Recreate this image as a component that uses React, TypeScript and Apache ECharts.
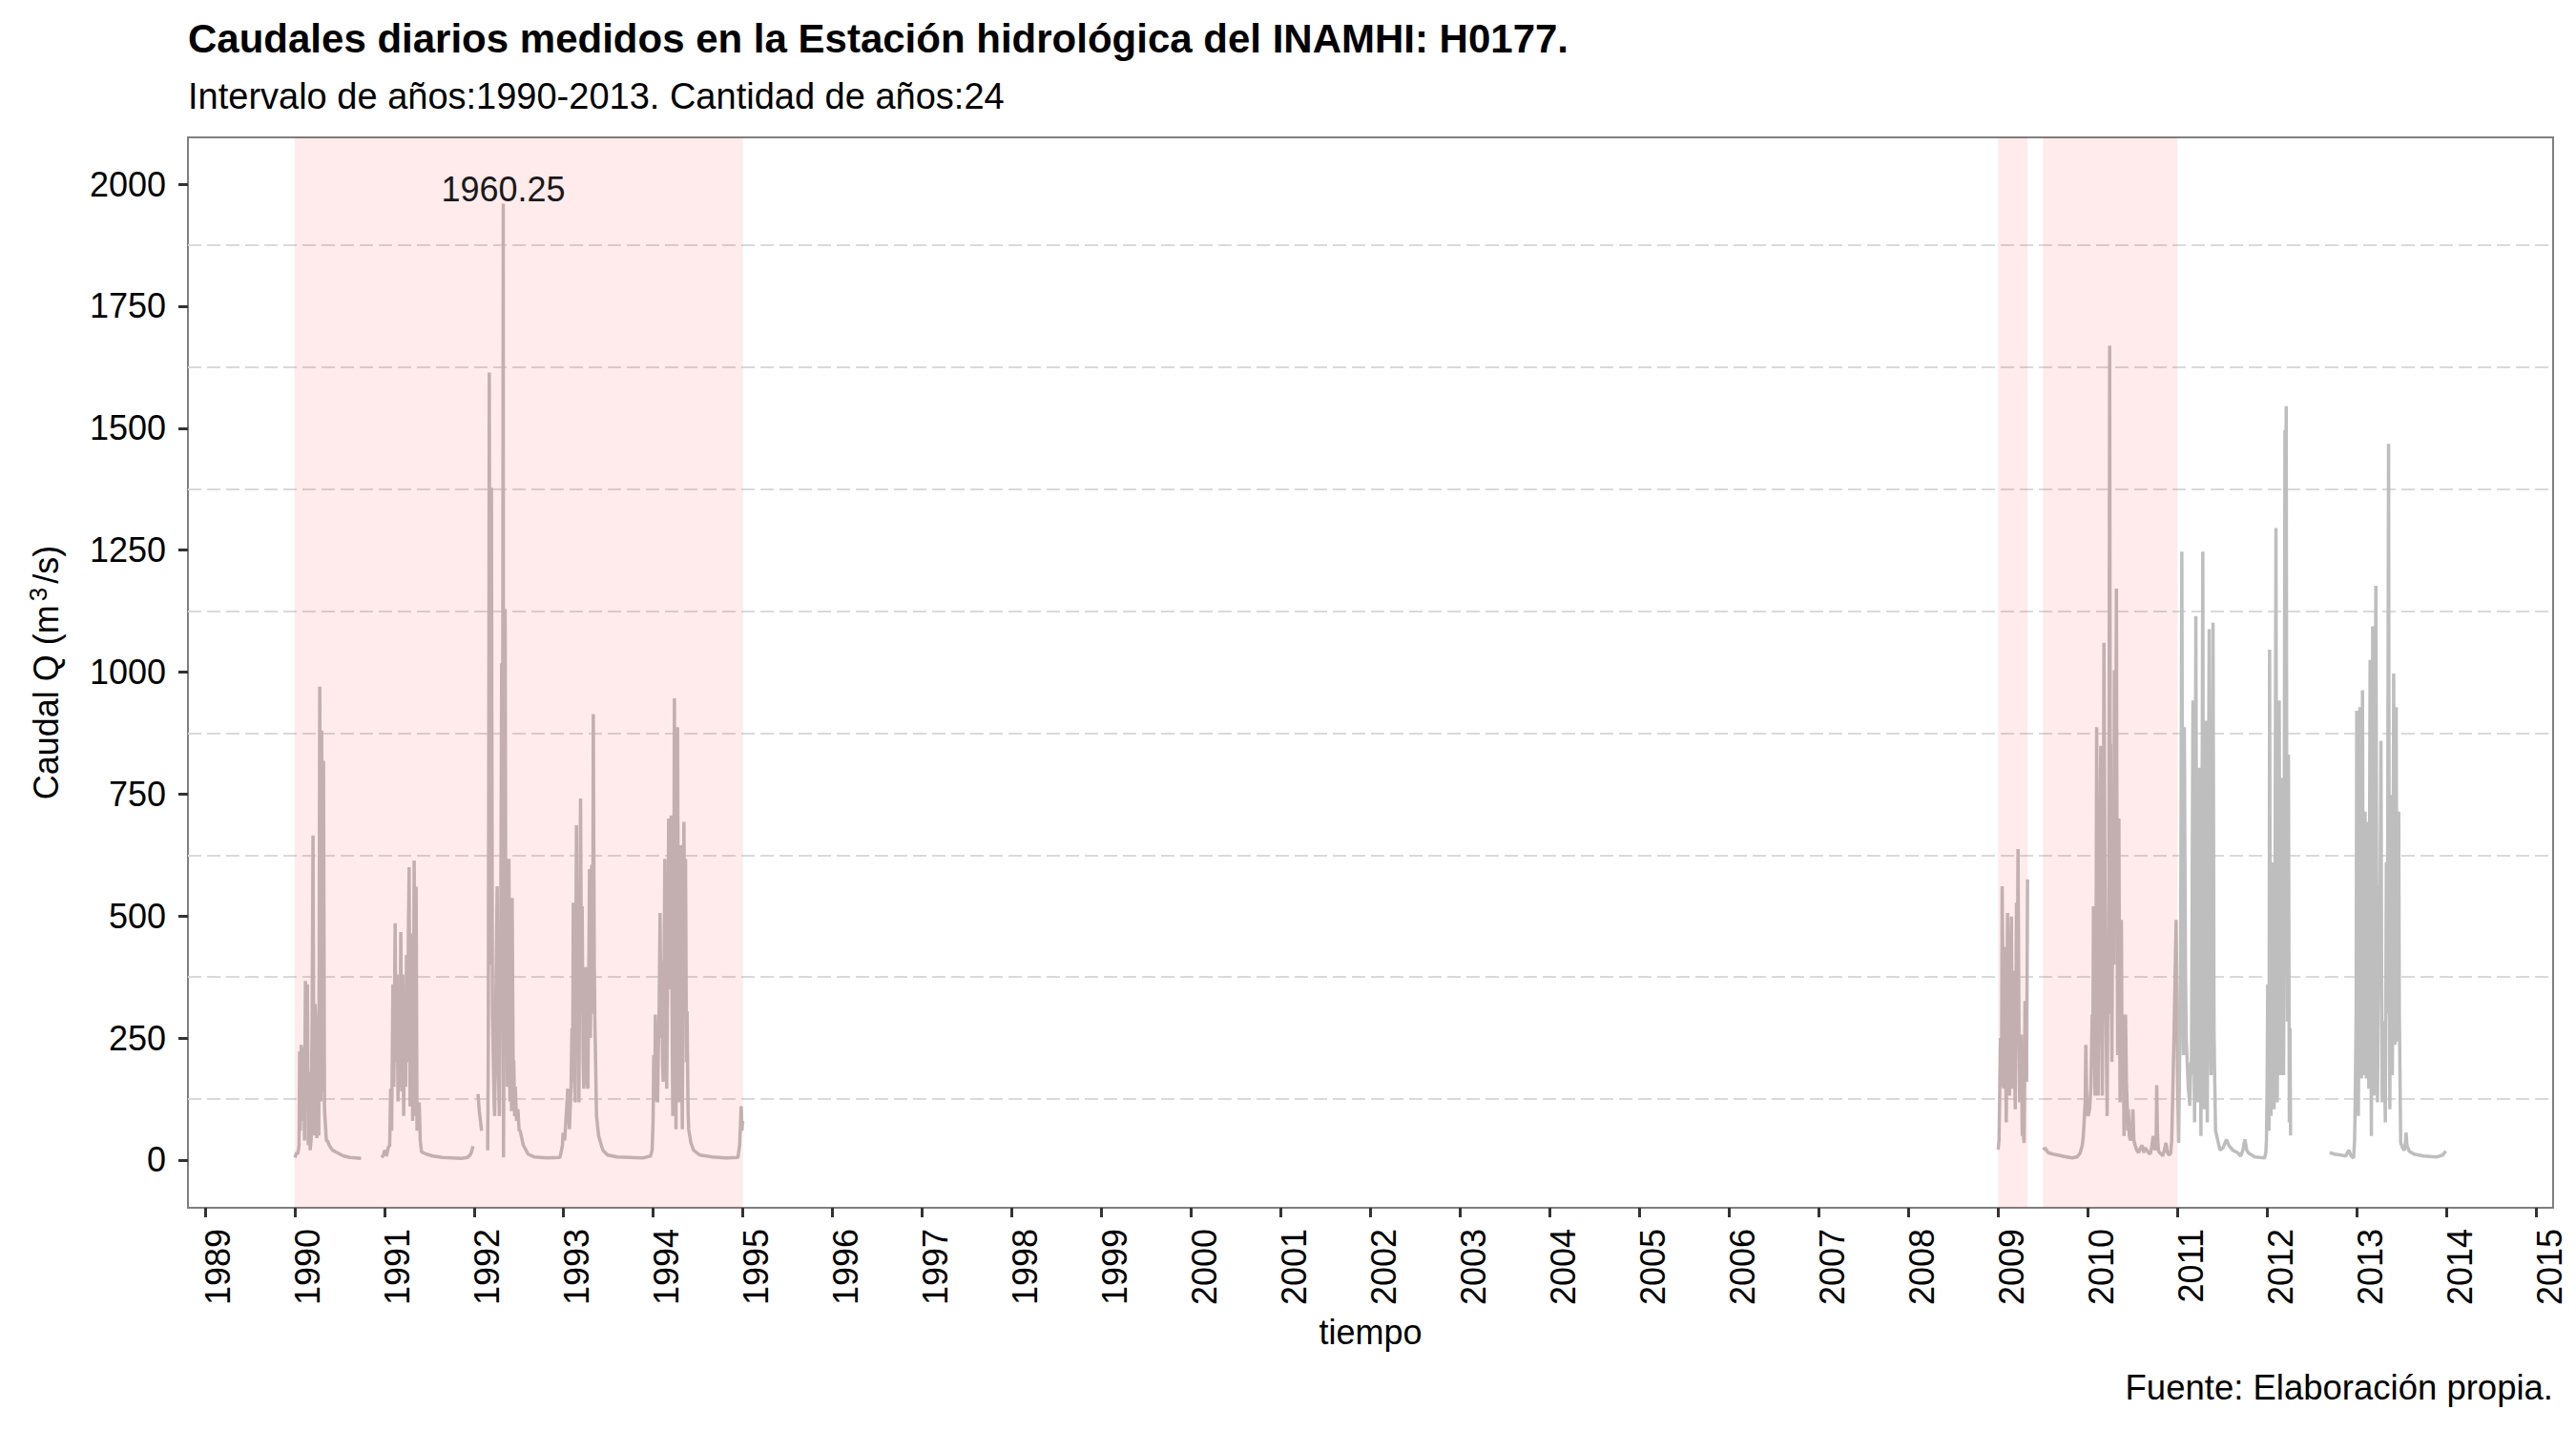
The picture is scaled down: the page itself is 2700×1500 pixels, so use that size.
import React, { useEffect, useRef } from 'react';
import * as echarts from 'echarts';

// daily discharge, as [decimal year, Q m3/s]
const seg1990: [number, number][] = [
  [1990.003, 5], [1990.021, 15], [1990.035, 12], [1990.049, 30], [1990.056, 222], [1990.063, 60],
  [1990.074, 236], [1990.085, 80], [1990.099, 230], [1990.110, 40], [1990.120, 367], [1990.131, 120],
  [1990.142, 360], [1990.152, 30], [1990.163, 180], [1990.173, 20], [1990.184, 40], [1990.195, 300],
  [1990.205, 665], [1990.216, 50], [1990.227, 320], [1990.237, 284], [1990.248, 45], [1990.259, 100],
  [1990.269, 50], [1990.280, 970], [1990.291, 120], [1990.301, 880], [1990.312, 140], [1990.322, 818],
  [1990.333, 104], [1990.344, 70], [1990.354, 40], [1990.369, 38], [1990.386, 30], [1990.422, 20],
  [1990.475, 15], [1990.546, 8], [1990.617, 5], [1990.741, 3],
];

const seg1991: [number, number][] = [
  [1990.972, 5], [1990.989, 10], [1991.007, 20], [1991.025, 8], [1991.043, 25], [1991.060, 30],
  [1991.071, 146], [1991.082, 60], [1991.096, 360], [1991.106, 150], [1991.121, 485], [1991.131, 200],
  [1991.142, 380], [1991.153, 120], [1991.163, 300], [1991.174, 150], [1991.184, 467], [1991.195, 140],
  [1991.206, 380], [1991.216, 90], [1991.227, 317], [1991.238, 150], [1991.248, 420], [1991.259, 200],
  [1991.270, 492], [1991.277, 600], [1991.287, 110], [1991.298, 400], [1991.305, 464], [1991.316, 80],
  [1991.326, 300], [1991.333, 614], [1991.344, 90], [1991.355, 560], [1991.365, 60], [1991.376, 100],
  [1991.390, 118], [1991.401, 40], [1991.415, 17], [1991.433, 15], [1991.468, 12], [1991.504, 10],
  [1991.539, 8], [1991.575, 7], [1991.645, 5], [1991.752, 4], [1991.858, 3], [1991.929, 5],
  [1991.965, 12], [1991.990, 28],
];

const seg1992a: [number, number][] = [
  [1992.045, 135], [1992.060, 100], [1992.085, 60],
];

const seg1992to1994: [number, number][] = [
  [1992.153, 20], [1992.160, 237], [1992.171, 1614], [1992.181, 400], [1992.195, 1378], [1992.206, 300],
  [1992.213, 237], [1992.224, 120], [1992.231, 90], [1992.242, 300], [1992.259, 561], [1992.270, 200],
  [1992.284, 90], [1992.298, 400], [1992.309, 1018], [1992.319, 600], [1992.327, 1960.25], [1992.330, 5],
  [1992.341, 600], [1992.348, 1129], [1992.355, 400], [1992.362, 617], [1992.373, 150], [1992.383, 500],
  [1992.390, 617], [1992.401, 120], [1992.408, 530], [1992.419, 100], [1992.426, 537], [1992.437, 200],
  [1992.444, 204], [1992.454, 90], [1992.461, 150], [1992.475, 80], [1992.490, 104], [1992.504, 60],
  [1992.515, 60], [1992.551, 30], [1992.604, 12], [1992.675, 6], [1992.817, 4], [1992.959, 5],
  [1992.987, 30], [1992.994, 56], [1993.012, 40], [1993.047, 146], [1993.065, 63], [1993.083, 150],
  [1993.093, 270], [1993.100, 160], [1993.108, 527], [1993.118, 200], [1993.129, 118], [1993.143, 686],
  [1993.154, 250], [1993.164, 450], [1993.171, 118], [1993.189, 741], [1993.200, 300], [1993.207, 520],
  [1993.218, 200], [1993.225, 146], [1993.235, 300], [1993.249, 395], [1993.260, 160], [1993.271, 146],
  [1993.289, 596], [1993.299, 250], [1993.313, 605], [1993.324, 300], [1993.331, 914], [1993.342, 400],
  [1993.349, 284], [1993.367, 90], [1993.391, 49], [1993.413, 35], [1993.438, 20], [1993.491, 10],
  [1993.597, 6], [1993.739, 5], [1993.881, 4], [1993.970, 8], [1993.987, 20], [1993.998, 80],
  [1994.005, 215], [1994.016, 120], [1994.023, 298], [1994.034, 140], [1994.048, 118], [1994.058, 240],
  [1994.065, 303], [1994.076, 506], [1994.087, 250], [1994.094, 408], [1994.104, 200], [1994.111, 160],
  [1994.129, 617], [1994.140, 300], [1994.150, 146], [1994.161, 400], [1994.172, 700], [1994.182, 350],
  [1994.193, 600], [1994.200, 706], [1994.211, 250], [1994.218, 90], [1994.229, 500], [1994.236, 946],
  [1994.246, 300], [1994.253, 63], [1994.264, 450], [1994.271, 887], [1994.282, 300], [1994.289, 118],
  [1994.299, 400], [1994.306, 645], [1994.317, 200], [1994.324, 63], [1994.335, 500], [1994.342, 693],
  [1994.353, 400], [1994.360, 617], [1994.370, 200], [1994.377, 305], [1994.388, 100], [1994.395, 63],
  [1994.420, 35], [1994.449, 20], [1994.520, 10], [1994.661, 6], [1994.803, 4], [1994.945, 5],
  [1994.963, 30], [1994.981, 110], [1994.990, 60], [1994.998, 80],
];

const seg2009a: [number, number][] = [
  [2009.000, 21], [2009.010, 42], [2009.027, 250], [2009.038, 150], [2009.045, 561], [2009.056, 300],
  [2009.063, 146], [2009.070, 300], [2009.077, 437], [2009.084, 200], [2009.091, 77], [2009.098, 250],
  [2009.105, 506], [2009.116, 300], [2009.127, 132], [2009.137, 350], [2009.148, 499], [2009.155, 250],
  [2009.162, 146], [2009.169, 300], [2009.176, 388], [2009.183, 200], [2009.191, 104], [2009.198, 300],
  [2009.205, 527], [2009.212, 300], [2009.222, 637], [2009.233, 250], [2009.240, 118], [2009.251, 200],
  [2009.258, 257], [2009.269, 49], [2009.279, 60], [2009.290, 35], [2009.300, 326], [2009.311, 200],
  [2009.318, 160], [2009.329, 575],
];

const seg2009to2012: [number, number][] = [
  [2009.499, 21], [2009.524, 24], [2009.559, 15], [2009.613, 12], [2009.666, 10], [2009.737, 7],
  [2009.826, 4], [2009.879, 6], [2009.914, 14], [2009.939, 30], [2009.950, 49], [2009.960, 80],
  [2009.971, 120], [2009.978, 236], [2009.989, 120], [2010.003, 90], [2010.021, 104], [2010.035, 150],
  [2010.049, 298], [2010.056, 200], [2010.063, 520], [2010.074, 250], [2010.081, 132], [2010.092, 400],
  [2010.099, 887], [2010.109, 300], [2010.116, 132], [2010.127, 500], [2010.134, 650], [2010.145, 849],
  [2010.155, 300], [2010.162, 132], [2010.173, 500], [2010.180, 1060], [2010.191, 600], [2010.198, 423],
  [2010.209, 200], [2010.216, 90], [2010.226, 437], [2010.233, 300], [2010.244, 1669], [2010.251, 700],
  [2010.255, 852], [2010.262, 400], [2010.269, 201], [2010.276, 500], [2010.283, 769], [2010.290, 400],
  [2010.297, 1004], [2010.308, 500], [2010.319, 1171], [2010.326, 600], [2010.333, 215], [2010.340, 400],
  [2010.347, 700], [2010.354, 300], [2010.361, 118], [2010.368, 300], [2010.375, 492], [2010.382, 200],
  [2010.393, 298], [2010.404, 49], [2010.414, 150], [2010.421, 298], [2010.432, 150], [2010.439, 118],
  [2010.446, 60], [2010.453, 104], [2010.464, 50], [2010.474, 40], [2010.492, 50], [2010.503, 104],
  [2010.514, 40], [2010.528, 30], [2010.546, 20], [2010.567, 15], [2010.588, 25], [2010.606, 30],
  [2010.624, 15], [2010.641, 25], [2010.659, 20], [2010.677, 15], [2010.695, 12], [2010.712, 25],
  [2010.730, 49], [2010.748, 20], [2010.762, 30], [2010.769, 153], [2010.776, 60], [2010.787, 20],
  [2010.801, 15], [2010.819, 12], [2010.836, 8], [2010.854, 20], [2010.872, 35], [2010.890, 15],
  [2010.907, 10], [2010.925, 14], [2010.936, 40], [2010.950, 153], [2010.961, 250], [2010.968, 319],
  [2010.978, 420], [2010.986, 492], [2010.996, 284], [2011.003, 150], [2011.014, 35], [2011.024, 200],
  [2011.031, 284], [2011.039, 600], [2011.049, 1247], [2011.056, 700], [2011.067, 215], [2011.077, 887],
  [2011.084, 600], [2011.091, 368], [2011.098, 250], [2011.106, 215], [2011.120, 150], [2011.138, 111],
  [2011.149, 200], [2011.156, 174], [2011.163, 500], [2011.173, 942], [2011.184, 300], [2011.191, 77],
  [2011.198, 500], [2011.205, 1115], [2011.216, 400], [2011.227, 118], [2011.237, 500], [2011.248, 804],
  [2011.255, 300], [2011.262, 49], [2011.273, 600], [2011.283, 1247], [2011.290, 400], [2011.297, 104],
  [2011.308, 500], [2011.315, 900], [2011.326, 300], [2011.333, 77], [2011.344, 600], [2011.354, 1088],
  [2011.365, 300], [2011.376, 174], [2011.390, 600], [2011.397, 1101], [2011.408, 270], [2011.415, 174],
  [2011.425, 60], [2011.475, 20], [2011.510, 25], [2011.546, 42], [2011.574, 30], [2011.617, 20],
  [2011.670, 15], [2011.706, 8], [2011.730, 20], [2011.752, 42], [2011.773, 20], [2011.794, 14],
  [2011.830, 10], [2011.865, 6], [2011.918, 5], [2011.972, 4], [2011.986, 15], [2011.993, 42],
  [2012.000, 150], [2012.007, 360], [2012.014, 200], [2012.021, 60], [2012.028, 1046], [2012.036, 300],
  [2012.043, 90], [2012.050, 400], [2012.060, 610], [2012.071, 200], [2012.078, 104], [2012.089, 600],
  [2012.099, 1295], [2012.106, 500], [2012.113, 118], [2012.124, 500], [2012.135, 942], [2012.142, 400],
  [2012.149, 174], [2012.160, 500], [2012.167, 783], [2012.177, 300], [2012.184, 174], [2012.191, 600],
  [2012.199, 1496], [2012.206, 800], [2012.213, 1545], [2012.220, 600], [2012.227, 284], [2012.238, 831],
  [2012.245, 300], [2012.248, 77], [2012.255, 270], [2012.262, 50],
];

const seg2012to2013: [number, number][] = [
  [2012.699, 15], [2012.752, 12], [2012.823, 10], [2012.876, 8], [2012.912, 20], [2012.937, 8],
  [2012.965, 4], [2012.976, 40], [2012.983, 125], [2012.993, 300], [2013.000, 921], [2013.011, 400],
  [2013.018, 90], [2013.029, 500], [2013.036, 928], [2013.046, 300], [2013.053, 167], [2013.064, 963],
  [2013.071, 500], [2013.078, 174], [2013.085, 400], [2013.092, 714], [2013.100, 300], [2013.107, 167],
  [2013.114, 500], [2013.121, 693], [2013.128, 300], [2013.135, 146], [2013.142, 600], [2013.149, 1025],
  [2013.156, 400], [2013.163, 49], [2013.170, 500], [2013.178, 1094], [2013.185, 600], [2013.192, 132],
  [2013.202, 700], [2013.213, 1177], [2013.224, 400], [2013.231, 118], [2013.241, 350], [2013.248, 561],
  [2013.259, 500], [2013.270, 859], [2013.277, 400], [2013.284, 118], [2013.295, 250], [2013.302, 284],
  [2013.312, 150], [2013.319, 77], [2013.330, 610], [2013.341, 300], [2013.348, 900], [2013.355, 1468],
  [2013.362, 500], [2013.369, 104], [2013.376, 400], [2013.383, 748], [2013.390, 300], [2013.397, 174],
  [2013.405, 500], [2013.412, 997], [2013.419, 400], [2013.426, 236], [2013.433, 500], [2013.440, 928],
  [2013.447, 400], [2013.454, 243], [2013.461, 500], [2013.468, 714], [2013.475, 300], [2013.483, 160],
  [2013.490, 35], [2013.511, 25], [2013.532, 20], [2013.543, 35], [2013.550, 56], [2013.560, 30],
  [2013.585, 18], [2013.639, 12], [2013.745, 8], [2013.887, 6], [2013.958, 10], [2013.994, 18],
];

const segments = [seg1990, seg1991, seg1992a, seg1992to1994, seg2009a, seg2009to2012, seg2012to2013];

// shaded periods [from, to] in decimal years
const shadedPeriods: [number, number][] = [
  [1990, 1995],
  [2009, 2009.33],
  [2009.5, 2011],
];

const yearTicks = [
  1989, 1990, 1991, 1992, 1993, 1994, 1995, 1996, 1997, 1998, 1999, 2000, 2001, 2002,
  2003, 2004, 2005, 2006, 2007, 2008, 2009, 2010, 2011, 2012, 2013, 2014, 2015,
];
const qTicks = [0, 250, 500, 750, 1000, 1250, 1500, 1750, 2000];
const minorGrid = [125, 375, 625, 875, 1125, 1375, 1625, 1875];

const peak: [number, number] = [1992.327, 1960.25];

const FONT = '"Liberation Sans", Arial, Helvetica, sans-serif';

export default function App() {
  const ref = useRef<HTMLDivElement>(null);

  useEffect(() => {
    if (!ref.current) return;
    const chart = echarts.init(ref.current, null, { renderer: 'svg' });

    const lineSeries = segments.map((seg, i) => {
      const s: any = {
        type: 'line',
        data: seg,
        showSymbol: false,
        symbol: 'none',
        z: 2,
        lineStyle: { color: '#bebebe', width: 3.5 },
        emphasis: { disabled: true },
      };
      if (i === 0) {
        s.markLine = {
          z: 1,
          silent: true,
          symbol: ['none', 'none'],
          label: { show: false },
          lineStyle: { color: '#dadada', type: [14, 6], width: 2 },
          data: minorGrid.map((v) => ({ yAxis: v })),
        };
        s.markArea = {
          z: 3,
          silent: true,
          itemStyle: { color: 'rgba(255,0,0,0.08)' },
          data: shadedPeriods.map(([a, b]) => [{ xAxis: a }, { xAxis: b }]),
        };
      }
      if (seg === seg1992to1994) {
        s.markPoint = {
          z: 5,
          silent: true,
          symbol: 'circle',
          symbolSize: 1,
          itemStyle: { color: 'rgba(0,0,0,0)' },
          label: {
            show: true,
            position: 'top',
            distance: -4,
            formatter: peak[1].toFixed(2),
            color: '#1a1a1a',
            fontSize: 36,
            fontFamily: FONT,
          },
          data: [{ coord: peak }],
        };
      }
      return s;
    });

    chart.setOption({
      animation: false,
      textStyle: { fontFamily: FONT },
      title: [
        {
          text: 'Caudales diarios medidos en la Estación hidrológica del INAMHI: H0177.',
          left: 197,
          top: 19,
          padding: 0,
          textStyle: { fontSize: 42, fontWeight: 'bold', color: '#000', fontFamily: FONT },
        },
        {
          text: 'Intervalo de años:1990-2013. Cantidad de años:24',
          left: 197,
          top: 82,
          padding: 0,
          textStyle: { fontSize: 38, fontWeight: 'normal', color: '#000', fontFamily: FONT },
        },
      ],
      grid: {
        left: 197,
        top: 144,
        right: 24,
        bottom: 234,
        show: true,
        borderColor: '#7f7f7f',
        borderWidth: 2,
        backgroundColor: '#fff',
        containLabel: false,
        outerBoundsMode: 'none',
      },
      xAxis: {
        type: 'value',
        min: 1988.81,
        max: 2015.19,
        name: 'tiempo',
        nameLocation: 'middle',
        nameGap: 112,
        nameMoveOverlap: false,
        nameTextStyle: { fontSize: 36, color: '#000', fontFamily: FONT },
        axisLine: { show: true, onZero: false, lineStyle: { color: '#7f7f7f', width: 2 } },
        axisTick: { show: true, length: 10, lineStyle: { color: '#333', width: 3 }, customValues: yearTicks },
        axisLabel: {
          rotate: 90,
          margin: 22,
          fontSize: 36,
          lineHeight: 28,
          verticalAlign: 'top',
          color: '#000',
          customValues: yearTicks,
          formatter: (v: number) => String(Math.round(v)),
        },
        splitLine: { show: false },
      },
      yAxis: {
        type: 'value',
        min: -98,
        max: 2096,
        name: 'Caudal Q (m{s|3}/s)',
        nameLocation: 'middle',
        nameRotate: 90,
        nameGap: 128,
        nameMoveOverlap: false,
        nameTextStyle: {
          fontSize: 36,
          color: '#000',
          fontFamily: FONT,
          rich: { s: { fontSize: 26, color: '#000', fontFamily: FONT, padding: [0, 4, 16, 4] } },
        },
        axisLine: { show: true, onZero: false, lineStyle: { color: '#7f7f7f', width: 2 } },
        axisTick: { show: true, length: 10, lineStyle: { color: '#333', width: 3 }, customValues: qTicks },
        axisLabel: {
          margin: 23,
          fontSize: 36,
          color: '#000',
          customValues: qTicks,
          formatter: (v: number) => String(v),
        },
        splitLine: { show: false },
      },
      graphic: [
        {
          type: 'text',
          right: 24,
          top: 1436,
          style: { text: 'Fuente: Elaboración propia.', fontSize: 36.5, fill: '#000', fontFamily: FONT },
        },
      ],
      series: lineSeries,
    });

    return () => chart.dispose();
  }, []);

  return <div ref={ref} style={{ position: 'absolute', left: 0, top: 0, width: 2700, height: 1500 }} />;
}
